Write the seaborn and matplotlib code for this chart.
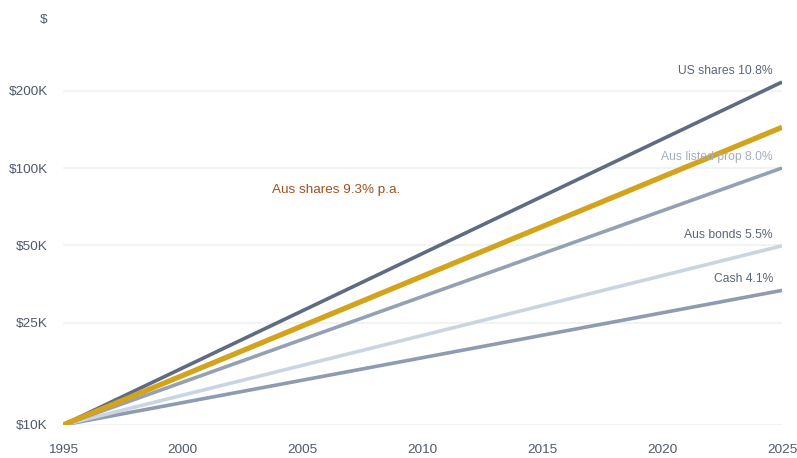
import matplotlib
matplotlib.use("Agg")
import numpy as np
import pandas as pd
import matplotlib.pyplot as plt
import seaborn as sns
from matplotlib.ticker import FixedLocator, NullLocator

# growth of $10K, 1995 -> 2025 (straight lines on log scale)
years = [1995, 2025]
us_shares = [10000, 216000]
aus_shares = [10000, 144000]
aus_prop = [10000, 100000]
aus_bonds = [10000, 49800]
cash = [10000, 33400]

y_ticks = [10000, 25000, 50000, 100000, 200000]
y_labels = ["$10K", "$25K", "$50K", "$100K", "$200K"]
x_ticks = [1995, 2000, 2005, 2010, 2015, 2020, 2025]

series = [
    ("Cash 4.1%", cash, "#8f9bb0", 2.6, "#5b6678"),
    ("Aus bonds 5.5%", aus_bonds, "#cbd4e1", 2.6, "#5b6678"),
    ("Aus listed prop 8.0%", aus_prop, "#94a1b5", 2.6, "#a3afc0"),
    ("US shares 10.8%", us_shares, "#5f6b80", 2.6, "#5b6678"),
    ("Aus shares", aus_shares, "#d4a31c", 3.8, None),
]

sns.set_style("white")
plt.rcParams["font.family"] = ["Liberation Sans", "DejaVu Sans"]

fig = plt.figure(figsize=(7.97, 4.58), dpi=100)
W, H = 797, 458
top_px, bot_px, left_px, right_px = 30, 425, 63, 782
ax = fig.add_axes([left_px / W, 1 - bot_px / H, (right_px - left_px) / W, (bot_px - top_px) / H])

ax.set_yscale("log")
decade_px = 257.0
ax.set_ylim(10000, 10 ** (4 + (bot_px - top_px) / decade_px))
ax.set_xlim(1995, 2025)

for name, vals, col, lw, lab_col in series:
    d = pd.DataFrame({"year": years, "value": vals})
    sns.lineplot(data=d, x="year", y="value", ax=ax, color=col, linewidth=lw,
                 solid_capstyle="butt")
    if lab_col is not None:
        ax.annotate(name, xy=(years[-1], vals[-1]), xytext=(-9, 11),
                    textcoords="offset pixels", ha="right", va="center",
                    fontsize=8.7, color=lab_col)

ax.text(2003.7, 10 ** (5 + (168 - 190) / decade_px), "Aus shares 9.3% p.a.",
        ha="left", va="center", fontsize=9.7, color="#a3501f")

ax.yaxis.set_major_locator(FixedLocator(y_ticks))
ax.yaxis.set_minor_locator(NullLocator())
ax.set_yticklabels(y_labels)
ax.set_xticks(x_ticks)
ax.set_xticklabels([str(x) for x in x_ticks])
ax.grid(axis="y", color="#f0f2f5", linewidth=1.3)
ax.set_axisbelow(True)
ax.tick_params(axis="both", length=0, labelsize=9.7, colors="#4f5a6b")
ax.tick_params(axis="y", pad=11)
ax.tick_params(axis="x", pad=14)
ax.set_xlabel("")
ax.set_ylabel("")
for s in ax.spines.values():
    s.set_visible(False)

fig.text(47 / W, 1 - 20 / H, "$", ha="right", va="center", fontsize=9.7, color="#4f5a6b")

fig.savefig("out.png", dpi=100)
